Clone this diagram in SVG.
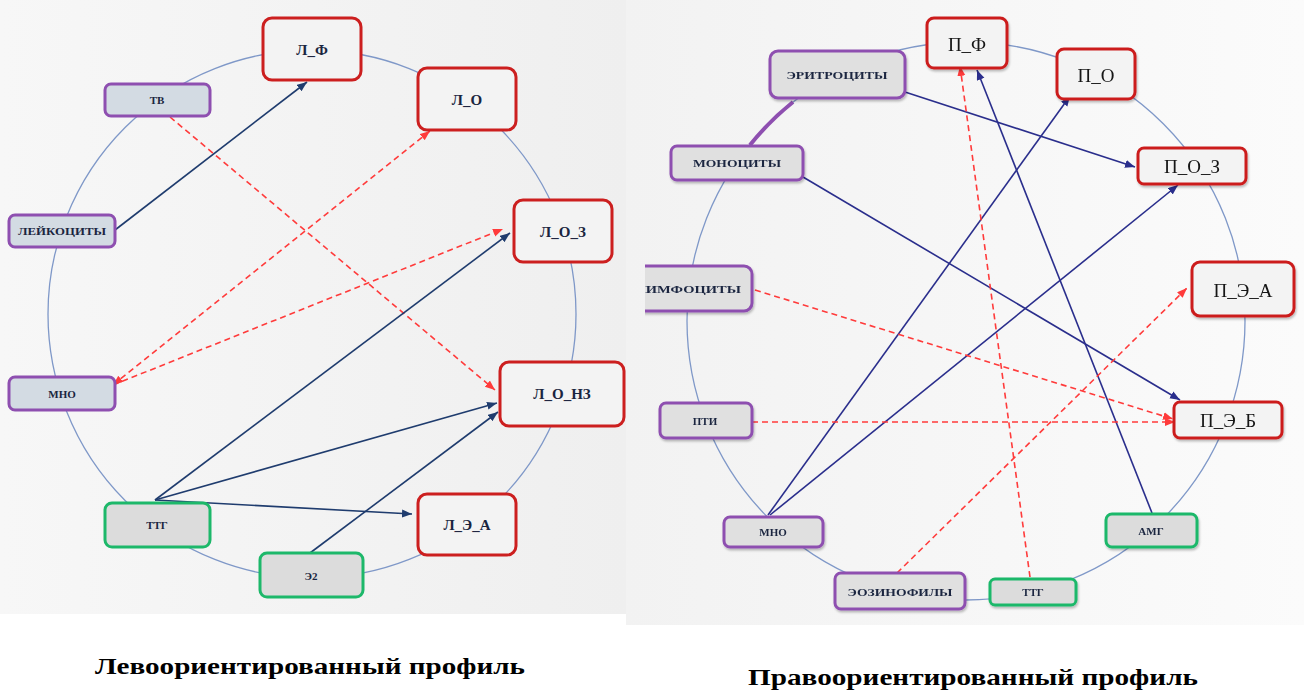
<svg xmlns="http://www.w3.org/2000/svg" width="1304" height="691" viewBox="0 0 1304 691">
<defs>
<linearGradient id="bgL" x1="0" y1="0" x2="1" y2="0"><stop offset="0" stop-color="#f7f7f7"/><stop offset="1" stop-color="#efefef"/></linearGradient>
<linearGradient id="bgR" x1="0" y1="0" x2="1" y2="0"><stop offset="0" stop-color="#f2f2f2"/><stop offset="1" stop-color="#fbfbfb"/></linearGradient>
<marker id="aR" markerUnits="userSpaceOnUse" markerWidth="12" markerHeight="10" refX="10" refY="4" orient="auto-start-reverse"><path d="M0,0 L10,4 L0,8 z" fill="#ff3b3b"/></marker>
<marker id="aL" markerUnits="userSpaceOnUse" markerWidth="12" markerHeight="10" refX="10" refY="4" orient="auto"><path d="M0,0 L10,4 L0,8 z" fill="#1f3c6e"/></marker>
<marker id="aN" markerUnits="userSpaceOnUse" markerWidth="12" markerHeight="10" refX="10" refY="4" orient="auto"><path d="M0,0 L10,4 L0,8 z" fill="#2a2e8c"/></marker>
<clipPath id="clipR"><rect x="645" y="0" width="659" height="691"/></clipPath>
<filter id="sh" x="-10%" y="-10%" width="130%" height="140%"><feDropShadow dx="1" dy="2" stdDeviation="1.2" flood-color="#000" flood-opacity="0.25"/></filter>
</defs>
<style>
.ring{fill:none;stroke:#7f98c8;stroke-width:1.3}
.red{fill:#f3f3f3;stroke:#cc1f1f;stroke-width:3}
.purL{fill:#d3dbe3;stroke:#8e4fb0;stroke-width:3}
.pur{fill:#e0e0e0;stroke:#8e4fb0;stroke-width:3}
.grn{fill:#dcdcdc;stroke:#1db86a;stroke-width:3}
.t{font-family:"Liberation Serif","Times New Roman",serif;font-weight:bold;fill:#1a2540;text-anchor:middle}
.tb{font-size:15px}
.ts{font-size:11px}
.tr{font-family:"Liberation Serif","Times New Roman",serif;font-size:19px;fill:#141414;text-anchor:middle}
.solL{fill:none;stroke:#1f3c6e;stroke-width:1.6;marker-end:url(#aL)}
.solN{fill:none;stroke:#2a2e8c;stroke-width:1.6;marker-end:url(#aN)}
.dash{fill:none;stroke:#ff3b3b;stroke-width:1.6;stroke-dasharray:6 4;marker-end:url(#aR)}
.cap{font-family:"Liberation Serif","Times New Roman",serif;font-weight:bold;font-size:24px;fill:#000;text-anchor:middle}
</style>
<rect width="1304" height="691" fill="#fff"/>
<rect x="0" y="0" width="626" height="614" fill="url(#bgL)"/>
<rect x="626" y="0" width="678" height="625" fill="url(#bgR)"/>

<g id="rings">
<circle class="ring" cx="312" cy="314" r="264"/>
<circle class="ring" cx="966" cy="321" r="279"/>
<path d="M793,102 A279,279 0 0 0 750,145" fill="none" stroke="#8e4fb0" stroke-width="4"/>
</g>

<g id="connectors">
<line class="solL" x1="115" y1="230" x2="307" y2="82"/>
<line class="dash" x1="170" y1="117" x2="495" y2="390"/>
<line class="dash" x1="113" y1="385" x2="430" y2="131" marker-start="url(#aR)"/>
<line class="dash" x1="113" y1="385" x2="503" y2="229"/>
<line class="solL" x1="155" y1="500" x2="510" y2="233"/>
<line class="solL" x1="155" y1="500" x2="497" y2="403"/>
<line class="solL" x1="155" y1="500" x2="412" y2="514"/>
<line class="solL" x1="310" y1="553" x2="498" y2="412"/>

<line class="solN" x1="905" y1="92" x2="1135" y2="167"/>
<line class="solN" x1="803" y1="177" x2="1180" y2="400"/>
<line class="solN" x1="768" y1="515" x2="1070" y2="96"/>
<line class="solN" x1="770" y1="515" x2="1178" y2="185"/>
<line class="solN" x1="1152" y1="513" x2="977" y2="70"/>
<line class="dash" x1="1030" y1="577" x2="960" y2="66"/>
<line class="dash" x1="755" y1="290" x2="1173" y2="419"/>
<line class="dash" x1="752" y1="422" x2="1175" y2="422"/>
<line class="dash" x1="897" y1="573" x2="1187" y2="288"/>
</g>

<g id="n-L_F"><rect class="red" x="263" y="18" width="98" height="62" rx="9"/><text class="t tb" x="312" y="55">Л_Ф</text></g>
<g id="n-TV"><rect class="purL" x="105" y="84" width="105" height="32" rx="6"/><text class="t ts" x="157" y="104">ТВ</text></g>
<g id="n-L_O"><rect class="red" x="418" y="68" width="98" height="62" rx="9"/><text class="t tb" x="467" y="105">Л_О</text></g>
<g id="n-LEIK"><rect class="purL" x="9" y="215" width="106" height="32" rx="6"/><text class="t ts" x="62" y="235" textLength="88" lengthAdjust="spacingAndGlyphs">ЛЕЙКОЦИТЫ</text></g>
<g id="n-L_O_Z"><rect class="red" x="514" y="200" width="98" height="62" rx="9"/><text class="t tb" x="563" y="237">Л_О_З</text></g>
<g id="n-MNO-L"><rect class="purL" x="9" y="377" width="106" height="33" rx="6"/><text class="t ts" x="62" y="398">МНО</text></g>
<g id="n-L_O_NZ"><rect class="red" x="500" y="362" width="124" height="64" rx="9"/><text class="t tb" x="562" y="399">Л_О_НЗ</text></g>
<g id="n-TTG-L"><rect class="grn" x="105" y="503" width="105" height="44" rx="7"/><text class="t ts" x="157" y="529">ТТГ</text></g>
<g id="n-L_E_A"><rect class="red" x="418" y="494" width="98" height="61" rx="9"/><text class="t tb" x="467" y="530">Л_Э_А</text></g>
<g id="n-E2"><rect class="grn" x="260" y="553" width="103" height="44" rx="7"/><text class="t ts" x="311" y="580">Э2</text></g>

<g id="n-P_F" filter="url(#sh)"><rect class="red" x="927" y="18" width="80" height="50" rx="7"/><text class="tr" x="967" y="51">П_Ф</text></g>
<g id="n-ERIT" filter="url(#sh)"><rect class="pur" x="770" y="51" width="135" height="47" rx="8"/><text class="t ts" x="837" y="79" textLength="101" lengthAdjust="spacingAndGlyphs">ЭРИТРОЦИТЫ</text></g>
<g id="n-P_O" filter="url(#sh)"><rect class="red" x="1057" y="49" width="78" height="50" rx="7"/><text class="tr" x="1096" y="82">П_О</text></g>
<g id="n-MONO" filter="url(#sh)"><rect class="pur" x="671" y="146" width="132" height="34" rx="6"/><text class="t ts" x="737" y="167" textLength="88" lengthAdjust="spacingAndGlyphs">МОНОЦИТЫ</text></g>
<g id="n-P_O_Z" filter="url(#sh)"><rect class="red" x="1138" y="148" width="108" height="36" rx="6"/><text class="tr" x="1192" y="173">П_О_З</text></g>
<g id="n-LIMF" clip-path="url(#clipR)"><g filter="url(#sh)"><rect class="pur" x="630" y="266" width="122" height="45" rx="8"/><text class="t ts" x="688" y="293" textLength="106" lengthAdjust="spacingAndGlyphs">ЛИМФОЦИТЫ</text></g></g>
<g id="n-PTI" filter="url(#sh)"><rect class="pur" x="660" y="403" width="92" height="35" rx="6"/><text class="t ts" x="705" y="425">ПТИ</text></g>
<g id="n-P_E_A" filter="url(#sh)"><rect class="red" x="1192" y="262" width="102" height="54" rx="8"/><text class="tr" x="1243" y="297">П_Э_А</text></g>
<g id="n-P_E_B" filter="url(#sh)"><rect class="red" x="1174" y="402" width="108" height="36" rx="6"/><text class="tr" x="1228" y="427">П_Э_Б</text></g>
<g id="n-MNO-R" filter="url(#sh)"><rect class="pur" x="724" y="517" width="99" height="30" rx="6"/><text class="t ts" x="773" y="536">МНО</text></g>
<g id="n-AMG" filter="url(#sh)"><rect class="grn" x="1106" y="514" width="91" height="33" rx="6"/><text class="t ts" x="1151" y="535">АМГ</text></g>
<g id="n-EOZ" filter="url(#sh)"><rect class="pur" x="835" y="573" width="130" height="36" rx="6"/><text class="t ts" x="900" y="596" textLength="105" lengthAdjust="spacingAndGlyphs">ЭОЗИНОФИЛЫ</text></g>
<g id="n-TTG-R" filter="url(#sh)"><rect class="grn" x="990" y="579" width="86" height="26" rx="5"/><text class="t ts" x="1033" y="596">ТТГ</text></g>

<g id="captions">
<text class="cap" x="310" y="674" textLength="430" lengthAdjust="spacingAndGlyphs">Левоориентированный профиль</text>
<text class="cap" x="973" y="685" textLength="450" lengthAdjust="spacingAndGlyphs">Правоориентированный профиль</text>
</g>
</svg>
